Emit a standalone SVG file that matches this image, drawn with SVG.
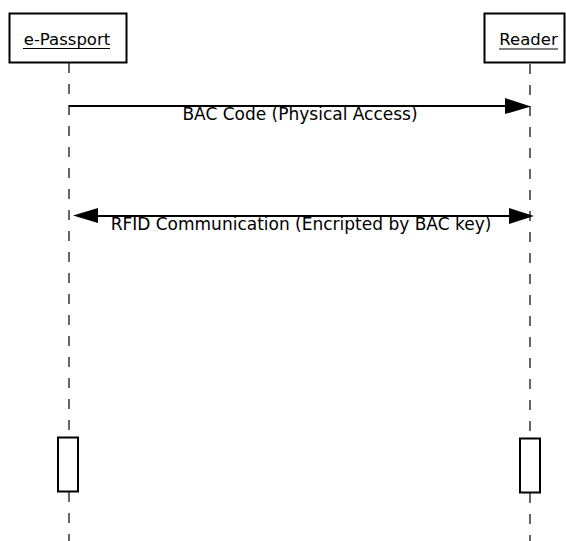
<svg xmlns="http://www.w3.org/2000/svg" width="566" height="541" viewBox="0 0 566 541">
  <style>
    .obj { fill: #ffffff; stroke: #000000; stroke-width: 2; }
    .name { font-family: "DejaVu Sans", sans-serif; font-size: 16.5px; fill: #000000; text-anchor: middle; }
    .uline { stroke: #000000; stroke-width: 1.2; }
    .life { stroke: #000000; stroke-width: 1.2; stroke-dasharray: 10 11; fill: none; }
    .msg { stroke: #000000; stroke-width: 2; fill: none; }
    .head { fill: #000000; stroke: none; }
    .label { font-family: "DejaVu Sans", sans-serif; font-size: 17px; fill: #000000; text-anchor: middle; }
    .act { fill: #ffffff; stroke: #000000; stroke-width: 2; }
  </style>
  <rect width="566" height="541" fill="#ffffff"/>

  <!-- lifelines -->
  <g id="lifelines">
    <line class="life" x1="69" y1="63" x2="69" y2="437"/>
    <line class="life" x1="69" y1="492" x2="69" y2="541"/>
    <line class="life" x1="530" y1="64" x2="530" y2="438"/>
    <line class="life" x1="530" y1="493" x2="530" y2="541"/>
  </g>

  <!-- objects -->
  <g id="passport">
    <rect class="obj" x="9.5" y="13.5" width="117" height="49"/>
    <text class="name" x="67" y="45">e-Passport</text>
    <line class="uline" x1="23" y1="48.5" x2="110" y2="48.5"/>
  </g>
  <g id="reader">
    <rect class="obj" x="484.5" y="13.5" width="80" height="49"/>
    <text class="name" x="528.5" y="45">Reader</text>
    <line class="uline" x1="499" y1="49" x2="558" y2="49"/>
  </g>

  <!-- activations -->
  <g id="passport-activation">
    <rect class="act" x="58" y="437.5" width="20" height="54"/>
  </g>
  <g id="reader-activation">
    <rect class="act" x="520" y="438.5" width="20" height="54"/>
  </g>

  <!-- messages -->
  <g id="connectors">
    <g id="bac-code">
      <line class="msg" x1="69" y1="106" x2="512" y2="106"/>
      <polygon class="head" points="505,98 531,106.5 505,114"/>
      <text class="label" x="300" y="120">BAC Code (Physical Access)</text>
    </g>
    <g id="rfid-communication">
      <line class="msg" x1="90" y1="216" x2="515" y2="216"/>
      <polygon class="head" points="98,208 73,215.5 98,223"/>
      <polygon class="head" points="509,208 534,216 509,224"/>
      <text class="label" x="301" y="230">RFID Communication (Encripted by BAC key)</text>
    </g>
  </g>
</svg>
